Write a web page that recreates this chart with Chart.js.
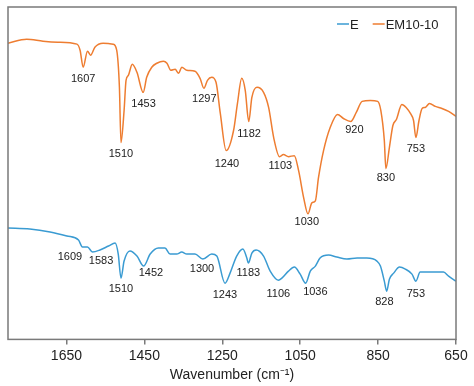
<!DOCTYPE html>
<html>
<head>
<meta charset="utf-8">
<script src="https://cdn.jsdelivr.net/npm/chart.js@4"></script>
<style>
  html, body { margin: 0; padding: 0; background: #fff; }
  #wrap { width: 474px; height: 386px; }
</style>
</head>
<body>
<div id="wrap"><canvas id="ftirChart"></canvas></div>
<script>
// spectra (y is transmittance, arbitrary units)
const emWavenumber = [1800,1752,1710,1672,1623,1615,1607,1596,1588,1577,1556,1530,1521,1514,1510,1502,1497,1491,1481,1469,1453,1444,1431,1418,1401,1392,1382,1371,1362,1354,1341,1320,1307,1297,1288,1277,1266,1255,1240,1221,1211,1200,1191,1182,1174,1161,1144,1131,1118,1103,1093,1080,1065,1054,1041,1030,1020,1011,1003,990,973,954,939,920,906,891,870,851,843,834,830,821,812,803,789,778,767,759,753,745,737,729,718,703,686,669,650];
const emValues = [295,299,297,296,294,288,271,287,283,291,295,294,288,251,196,228,258,263,274,266,246,261,271,275,277,275,268,269,265,271,268,267,260,250,258,261,256,225,188,208,235,260,248,217,241,251,246,231,201,182,184,182,183,168,141,125,136,138,161,188,211,224,220,217,226,237,238,237,228,198,170,191,213,219,234,231,225,218,201,218,230,231,235,232,230,227,222];

const eWavenumber = [1800,1744,1692,1649,1619,1609,1596,1583,1564,1542,1525,1517,1510,1502,1487,1469,1452,1435,1414,1397,1384,1367,1354,1341,1320,1300,1277,1264,1243,1230,1213,1197,1187,1183,1174,1163,1144,1127,1106,1097,1080,1065,1050,1036,1024,1011,999,977,956,930,904,879,853,844,834,828,821,810,795,780,763,753,742,725,682,669,650];
const eValues = [111,110,107,103,99,92,92,87,89,93,96,85,61,78,88,83,73,85,91,91,85,85,87,85,85,80,85,83,56,66,83,90,81,76,86,89,83,68,59,61,68,72,65,56,68,73,81,84,82,80,81,81,78,73,58,48,60,66,72,70,65,58,67,67,67,63,58];

// peak labels and where they sit (data coords)
const emLabels = ['1607','1510','1453','1297','1240','1182','1103','1030','920','830','753'];
const emLabelX = [1607,1510,1452,1296,1238,1181,1101,1033,911,830,753];
const emLabelY = [259,185,234,239,175,205,173,117,209,161,190];

const eLabels = ['1609','1583','1510','1452','1300','1243','1183','1106','1036','828','753'];
const eLabelX = [1641,1561,1510,1433,1302,1243,1183,1106,1011,834,753];
const eLabelY = [82,78,50,66,70,44,66,45,47,37,45];

const xTicks = [1650,1450,1250,1050,850,650];

const FONT = "'Liberation Sans', Arial, sans-serif";
const BLUE = '#3a9bd2';
const ORANGE = '#ee7d31';

function toPoints(xs, ys) {
    return xs.map((x, i) => ({ x: x, y: ys[i] }));
}

// frame, peak labels, legend
const decorations = {
    id: 'decorations',
    afterDatasetsDraw(chart) {
        const ctx = chart.ctx;
        const area = chart.chartArea;
        const xs = chart.scales.x;
        const ys = chart.scales.y;

        ctx.save();
        ctx.strokeStyle = '#7a7a7a';
        ctx.lineWidth = 1.5;
        ctx.strokeRect(area.left, area.top, area.right - area.left, area.bottom - area.top);

        ctx.fillStyle = '#222';
        ctx.font = '11px ' + FONT;
        ctx.textAlign = 'center';
        ctx.textBaseline = 'middle';
        emLabels.forEach((t, i) => {
            ctx.fillText(t, xs.getPixelForValue(emLabelX[i]), ys.getPixelForValue(emLabelY[i]));
        });
        eLabels.forEach((t, i) => {
            ctx.fillText(t, xs.getPixelForValue(eLabelX[i]), ys.getPixelForValue(eLabelY[i]));
        });

        // legend, top right inside the frame
        ctx.font = '13px ' + FONT;
        ctx.textAlign = 'left';
        let lx = 337;
        const ly = 24;
        chart.data.datasets.forEach(ds => {
            ctx.strokeStyle = ds.borderColor;
            ctx.lineWidth = 1.5;
            ctx.beginPath();
            ctx.moveTo(lx, ly);
            ctx.lineTo(lx + 12, ly);
            ctx.stroke();
            ctx.fillStyle = '#222';
            ctx.fillText(ds.label, lx + 13, ly + 1);
            lx += 13 + ctx.measureText(ds.label).width + 14;
        });
        ctx.restore();
    }
};

const ctx = document.getElementById('ftirChart').getContext('2d');
new Chart(ctx, {
    type: 'line',
    data: {
        datasets: [
            {
                label: 'E',
                data: toPoints(eWavenumber, eValues),
                borderColor: BLUE,
                backgroundColor: BLUE,
                borderWidth: 1.5,
                pointRadius: 0,
                cubicInterpolationMode: 'monotone'
            },
            {
                label: 'EM10-10',
                data: toPoints(emWavenumber, emValues),
                borderColor: ORANGE,
                backgroundColor: ORANGE,
                borderWidth: 1.5,
                pointRadius: 0,
                cubicInterpolationMode: 'monotone'
            }
        ]
    },
    options: {
        responsive: true,
        maintainAspectRatio: false,
        animation: false,
        layout: { padding: { left: 8, right: 18, top: 7, bottom: 0 } },
        plugins: {
            legend: { display: false },
            tooltip: { enabled: false }
        },
        scales: {
            x: {
                type: 'linear',
                reverse: true,
                min: 650,
                max: 1800,
                afterBuildTicks: axis => {
                    axis.ticks = xTicks.map(v => ({ value: v }));
                },
                grid: {
                    drawOnChartArea: false,
                    drawTicks: true,
                    tickLength: 5,
                    color: '#7a7a7a',
                    lineWidth: 1.5
                },
                border: { display: false },
                ticks: {
                    color: '#222',
                    padding: 3,
                    maxRotation: 0,
                    font: { family: FONT, size: 14 },
                    callback: v => String(v)
                },
                title: {
                    display: true,
                    text: 'Wavenumber (cm\u207B\u00B9)',
                    color: '#222',
                    padding: { top: 0, bottom: 2 },
                    font: { family: FONT, size: 14 }
                }
            },
            y: {
                display: false,
                min: 0,
                max: 331
            }
        }
    },
    plugins: [decorations]
});
</script>
</body>
</html>
